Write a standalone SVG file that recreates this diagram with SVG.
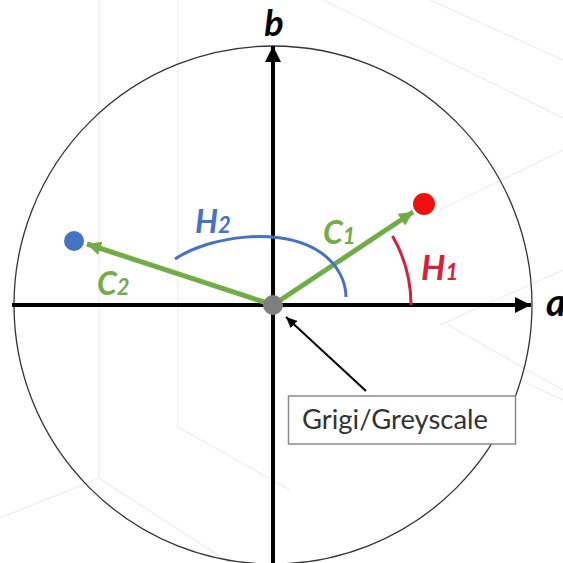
<svg xmlns="http://www.w3.org/2000/svg" width="563" height="563" viewBox="0 0 563 563">
<style>
.bg{stroke:#ededed;stroke-width:1.2;fill:none}
.axis{stroke:#000;stroke-width:4;fill:none}
.vec{stroke:#70AD47;stroke-width:5;fill:none}
.lbl{font-family:Lato,"Liberation Sans",sans-serif;font-weight:bold;font-style:italic;font-size:32px}
.sub{font-size:22px}
</style>
<defs>
<marker id="ah" markerUnits="userSpaceOnUse" markerWidth="18" markerHeight="18" refX="16" refY="8" orient="auto"><path d="M0,0 L16,8 L0,16 Z" fill="#000"/></marker>
<marker id="gh" markerUnits="userSpaceOnUse" markerWidth="16" markerHeight="14" refX="14" refY="7" orient="auto"><path d="M0,0 L14,7 L0,14 Z" fill="#70AD47"/></marker>
<marker id="kh" markerUnits="userSpaceOnUse" markerWidth="12" markerHeight="10" refX="11" refY="5" orient="auto"><path d="M0,0 L11,5 L0,10 Z" fill="#000"/></marker>
</defs>
<rect width="563" height="563" fill="#fff"/>
<g id="background">
<path class="bg" d="M99,0 V478 L0,518 M99,478 L230,563"/>
<path class="bg" d="M178,0 V427 L290,490"/>
<path class="bg" d="M323,0 L563,118 M430,0 L563,60 M440,210 L563,150 M440,325 L563,270 M448,325 L563,390 M520,380 L563,400"/>
</g>
<g id="circle"><circle cx="273" cy="305" r="259" fill="none" stroke="#333" stroke-width="1.3"/></g>
<g id="connectors">
<line class="axis" x1="12" y1="305" x2="531" y2="305" marker-end="url(#ah)"/>
<line class="axis" x1="273" y1="563" x2="273" y2="46" marker-end="url(#ah)"/>
<line class="vec" x1="273" y1="305" x2="413" y2="212" marker-end="url(#gh)"/>
<line class="vec" x1="273" y1="305" x2="87" y2="244" marker-end="url(#gh)"/>
<path d="M411,305 A138,138 0 0 0 392.5,236" fill="none" stroke="#D9203A" stroke-width="3"/>
<path d="M175,259 C210,236 280,226 320,252 C338,264 346,282 346,297" fill="none" stroke="#4472C4" stroke-width="3"/>
<line x1="366" y1="391" x2="286" y2="317" stroke="#000" stroke-width="2" marker-end="url(#kh)"/>
</g>
<g id="origin"><circle cx="273" cy="305" r="10" fill="#7F7F7F"/></g>
<g id="p1"><circle cx="424" cy="204" r="11" fill="#F01010"/></g>
<g id="p2"><circle cx="74" cy="241" r="10" fill="#4472C4"/></g>
<g id="label-b"><text class="lbl" x="274" y="36" text-anchor="middle" style="font-size:36px">b</text></g>
<g id="label-a"><text class="lbl" x="546" y="316" style="font-size:38px">a</text></g>
<g id="label-H2"><text class="lbl" x="195" y="233" fill="#4472C4">H<tspan class="sub">2</tspan></text></g>
<g id="label-C1"><text class="lbl" x="323" y="244" fill="#70AD47">C<tspan class="sub">1</tspan></text></g>
<g id="label-C2"><text class="lbl" x="97" y="295" fill="#70AD47">C<tspan class="sub">2</tspan></text></g>
<g id="label-H1"><text class="lbl" x="421" y="280" fill="#D9203A" style="font-size:34px">H<tspan class="sub">1</tspan></text></g>
<g id="greyscale">
<rect x="288.5" y="396" width="227" height="48" fill="#fff" stroke="#8a8a8a" stroke-width="1.5"/>
<text x="302" y="429" font-family="Lato,'Liberation Sans',sans-serif" font-size="26" fill="#333" textLength="186" lengthAdjust="spacingAndGlyphs">Grigi/Greyscale</text>
</g>
</svg>
